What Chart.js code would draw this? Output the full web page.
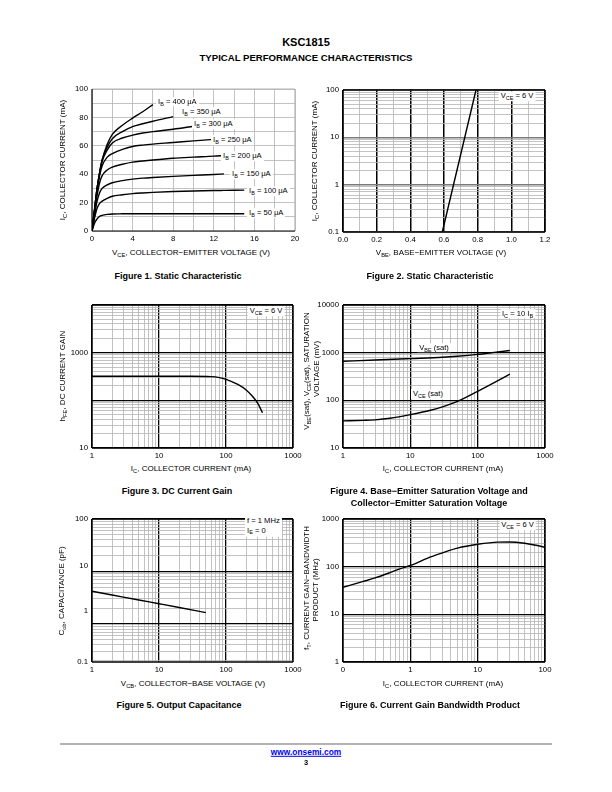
<!DOCTYPE html>
<html>
<head>
<meta charset="utf-8">
<script src="https://cdn.jsdelivr.net/npm/chart.js@4.4.1/dist/chart.umd.min.js"></script>
<style>
  html, body { margin: 0; padding: 0; background: #fff; }
  #page { position: relative; width: 612px; height: 792px; overflow: hidden;
          font-family: 'Liberation Sans', Arial, Helvetica, sans-serif; color: #000; }
  #page canvas { position: absolute; }
  .t { position: absolute; white-space: nowrap; font-size: 8px; line-height: 1;
       transform: translate(-50%, -50%); z-index: 2; }
  .l { transform: translate(0, -50%); font-size: 7.6px; }
  .r { transform: translate(-50%, -50%) rotate(-90deg); }
  .cap { font-weight: bold; font-size: 9px; }
  .bg { background: #fff; padding: 1px 2px; font-size: 7.6px; }
  sub { font-size: 0.72em; vertical-align: -0.3em; line-height: 0; }
</style>
</head>
<body>
<div id="page">
  <div class="t" style="left:306px;top:42px;font-weight:bold;font-size:11px">KSC1815</div>
  <div class="t" style="left:306px;top:57.5px;font-weight:bold;font-size:9.6px">TYPICAL PERFORMANCE CHARACTERISTICS</div>

  <!-- Figure 1 -->
  <div class="t r" style="left:63px;top:160px">I<sub>C</sub>, COLLECTOR CURRENT (mA)</div>
  <div class="t" style="left:191px;top:253px">V<sub>CE</sub>, COLLECTOR−EMITTER VOLTAGE (V)</div>
  <div class="t cap" style="left:178px;top:276px">Figure 1. Static Characteristic</div>
  <div class="t l bg" style="left:156px;top:101.7px">I<sub>B</sub> = 400 μA</div>
  <div class="t l bg" style="left:180px;top:112.3px">I<sub>B</sub> = 350 μA</div>
  <div class="t l bg" style="left:192px;top:124.3px">I<sub>B</sub> = 300 μA</div>
  <div class="t l bg" style="left:211px;top:140px">I<sub>B</sub> = 250 μA</div>
  <div class="t l bg" style="left:221px;top:156px">I<sub>B</sub> = 200 μA</div>
  <div class="t l bg" style="left:230px;top:174.3px">I<sub>B</sub> = 150 μA</div>
  <div class="t l bg" style="left:247px;top:191px">I<sub>B</sub> = 100 μA</div>
  <div class="t l bg" style="left:247px;top:213.3px">I<sub>B</sub> = 50 μA</div>

  <!-- Figure 2 -->
  <div class="t r" style="left:315px;top:161px">I<sub>C</sub>, COLLECTOR CURRENT (mA)</div>
  <div class="t" style="left:441px;top:253px">V<sub>BE</sub>, BASE−EMITTER VOLTAGE (V)</div>
  <div class="t cap" style="left:430px;top:276px">Figure 2. Static Characteristic</div>
  <div class="t bg" style="left:517px;top:96px">V<sub>CE</sub> = 6 V</div>

  <!-- Figure 3 -->
  <div class="t r" style="left:63px;top:376px">h<sub>FE</sub>, DC CURRENT GAIN</div>
  <div class="t" style="left:191px;top:469px">I<sub>C</sub>, COLLECTOR CURRENT (mA)</div>
  <div class="t cap" style="left:177px;top:491px">Figure 3. DC Current Gain</div>
  <div class="t bg" style="left:266px;top:311px">V<sub>CE</sub> = 6 V</div>

  <!-- Figure 4 -->
  <div class="t r" style="left:306.5px;top:371px">V<sub>BE</sub>(sat), V<sub>CE</sub>(sat), SATURATION</div>
  <div class="t r" style="left:317px;top:369px">VOLTAGE (mV)</div>
  <div class="t" style="left:443px;top:469px">I<sub>C</sub>, COLLECTOR CURRENT (mA)</div>
  <div class="t cap" style="left:429px;top:491px">Figure 4. Base−Emitter Saturation Voltage and</div>
  <div class="t cap" style="left:429px;top:503px">Collector−Emitter Saturation Voltage</div>
  <div class="t bg" style="left:517.5px;top:313.5px">I<sub>C</sub> = 10 I<sub>B</sub></div>
  <div class="t bg" style="left:434px;top:347.5px">V<sub>BE</sub> (sat)</div>
  <div class="t bg" style="left:428px;top:394px">V<sub>CE</sub> (sat)</div>

  <!-- Figure 5 -->
  <div class="t r" style="left:62px;top:591px">C<sub>ob</sub>, CAPACITANCE (pF)</div>
  <div class="t" style="left:193px;top:684px">V<sub>CB</sub>, COLLECTOR−BASE VOLTAGE (V)</div>
  <div class="t cap" style="left:179px;top:705px">Figure 5. Output Capacitance</div>
  <div class="t l bg" style="left:245px;top:525.5px;line-height:1.35">f = 1 MHz<br>I<sub>E</sub> = 0</div>

  <!-- Figure 6 -->
  <div class="t r" style="left:306.5px;top:588px">f<sub>T</sub>, CURRENT GAIN−BANDWIDTH</div>
  <div class="t r" style="left:316px;top:590px">PRODUCT (MHz)</div>
  <div class="t" style="left:443px;top:684px">I<sub>C</sub>, COLLECTOR CURRENT (mA)</div>
  <div class="t cap" style="left:430px;top:705px">Figure 6. Current Gain Bandwidth Product</div>
  <div class="t bg" style="left:517.5px;top:525px">V<sub>CE</sub> = 6 V</div>

  <!-- footer -->
  <div style="position:absolute;left:60px;top:743px;width:492px;height:2px;background:#b4b4b4"></div>
  <div class="t" style="left:306px;top:752px;font-weight:bold;font-size:8.4px;color:#0000ee;text-decoration:underline">www.onsemi.com</div>
  <div class="t" style="left:306px;top:763px;font-weight:bold;font-size:7.5px">3</div>
</div>

<script>
(function () {
  'use strict';

  /* ── Data ────────────────────────────────────────────────────────── */

  // Figure 1: IC (mA) vs VCE (V) for each base current
  var fig1Vce   = [0, 0.25, 0.5, 0.75, 1, 1.5, 2, 3, 4, 5, 6, 8, 10, 12, 13, 15];
  var fig1Ib50  = [0, 5.5, 8.5, 10.3, 11, 11.7, 12, 12.1, 12.2, 12.2, 12.2, 12.2, 12.2, 12.2, 12.2, 12.2];
  var fig1Ib100 = [0, 9, 16, 19.5, 21, 23, 24.5, 25.5, 26.3, 26.8, 27.2, 27.8, 28.2, 28.5, 28.6, 28.8];
  var fig1Ib150 = [0, 11, 21, 27, 30, 32.5, 34, 35.5, 36.5, 37.2, 37.7, 38.5, 39.2, 39.8, 40.2, null];
  var fig1Ib200 = [0, 13, 25, 34, 39, 43, 45, 47, 48.5, 49.3, 50, 51.2, 52, 52.7, 53.2, null];
  var fig1Ib250 = [0, 14, 28, 39, 46, 52, 54.5, 57.5, 59.5, 60.5, 61.2, 62.3, 63.5, 64.5, null, null];
  var fig1Ib300 = [0, 15, 30, 41, 49, 57, 62, 65.5, 67.5, 69, 70, 71.7, 73.8, null, null, null];
  var fig1Ib350 = [0, 15, 30, 41, 50, 59, 65, 70, 73.5, 75.5, 77.3, 80.5, null, null, null, null];
  var fig1Ib400 = [0, 15, 30, 41, 50, 61, 68, 74.5, 79.5, 84, 89, null, null, null, null, null];

  // Figure 2: IC (mA) vs VBE (V)
  var fig2Vbe = [0.59, 0.79];
  var fig2Ic  = [0.1, 100];

  // Figure 3: hFE vs IC (mA)
  var fig3Ic  = [1, 10, 30, 60, 80, 100, 150, 200, 250, 300, 350];
  var fig3Hfe = [320, 320, 320, 315, 300, 275, 215, 165, 120, 85, 55];

  // Figure 4: saturation voltages (mV) vs IC (mA)
  var fig4VbeIc = [1, 3, 10, 30, 50, 100, 200, 300];
  var fig4Vbe   = [660, 700, 750, 800, 840, 920, 1040, 1110];
  var fig4VceIc = [1, 2, 3, 5, 10, 20, 30, 50, 100, 200, 300];
  var fig4Vce   = [37, 38, 39, 42, 50, 62, 73, 95, 155, 260, 355];

  // Figure 5: Cob (pF) vs VCB (V)
  var fig5Vcb = [1, 2, 5, 10, 20, 50];
  var fig5Cob = [4.2, 3.56, 2.86, 2.43, 2.06, 1.64];

  // Figure 6: fT (MHz) vs IC (mA)
  var fig6Ic = [0.1, 0.2, 0.3, 0.5, 0.7, 1, 2, 3, 5, 10, 20, 30, 50, 70, 100];
  var fig6Ft = [37, 49, 58, 75, 90, 106, 160, 195, 245, 295, 328, 330, 310, 285, 255];

  // Tick labels
  var fig1XLabels = [0, 4, 8, 12, 16, 20];
  var fig1YLabels = [0, 20, 40, 60, 80, 100];
  var fig2XLabels = ['0.0', '0.2', '0.4', '0.6', '0.8', '1.0', '1.2'];
  var fig2YLabels = ['0.1', '1', '10', '100'];
  var fig3XLabels = ['1', '10', '100', '1000'];
  var fig3YLabels = [[10, '10'], [1000, '1000']];
  var fig4YLabels = ['10', '100', '1000', '10000'];
  var fig5YLabels = [[100, '100'], [12.6, '10'], [1.8, '1'], [0.188, '0.1']];
  var fig6XLabels = [[0.1, '0'], [1, '1'], [10, '10'], [100, '100']];
  var fig6YLabels = ['1', '10', '100', '1000'];

  /* ── Style ───────────────────────────────────────────────────────── */

  var FONT = "'Liberation Sans', Arial, Helvetica, sans-serif";
  var PAD = { l: 40, t: 8, r: 18, b: 16 };
  var MAJOR = { color: '#000', width: 1.3 };
  var MINOR = { color: '#b4b4b4', width: 0.8 };
  var HIDDEN = 'rgba(0,0,0,0)';

  function near(a, b) { return Math.abs(a - b) <= Math.abs(b) * 1e-6 + 1e-9; }
  function find(list, v) {
    for (var i = 0; i < list.length; i++) if (near(list[i].v, v)) return list[i];
    return null;
  }

  function logGrid(e0, e1) {
    var out = [];
    for (var e = e0; e < e1; e++) {
      for (var k = 1; k < 10; k++) out.push({ v: k * Math.pow(10, e), kind: k === 1 ? 'major' : 'minor' });
    }
    out.push({ v: Math.pow(10, e1), kind: 'major' });
    return out;
  }
  function stepGrid(min, max, step, majorEvery) {
    var out = [];
    var n = Math.round((max - min) / step);
    for (var i = 0; i <= n; i++) {
      out.push({ v: +(min + i * step).toFixed(6), kind: majorEvery && i % majorEvery === 0 ? 'major' : 'minor' });
    }
    return out;
  }
  function pairs(values, texts) {
    return values.map(function (v, i) { return { v: v, text: texts[i] }; });
  }

  function axis(pos, type, min, max, grid, labels, styles) {
    var values = grid.map(function (g) { return g.v; });
    labels.forEach(function (l) { if (!find(grid, l.v)) values.push(l.v); });
    values.sort(function (a, b) { return a - b; });
    var st = styles || { major: MAJOR, minor: MINOR };
    return {
      type: type, position: pos, min: min, max: max,
      afterBuildTicks: function (s) { s.ticks = values.map(function (v) { return { value: v }; }); },
      afterFit: function (s) {
        if (pos === 'left') s.width = PAD.l; else s.height = PAD.b;
        s.paddingLeft = s.paddingRight = s.paddingTop = s.paddingBottom = 0;
      },
      ticks: {
        autoSkip: false, maxRotation: 0, minRotation: 0,
        padding: pos === 'left' ? 4 : 3, color: '#000',
        font: { family: FONT, size: 7.8 },
        callback: function (v) { var l = find(labels, v); return l ? l.text : ''; }
      },
      grid: {
        drawTicks: false,
        color: function (ctx) {
          var g = ctx.tick && find(grid, ctx.tick.value);
          return g ? st[g.kind].color : HIDDEN;
        },
        lineWidth: function (ctx) {
          var g = ctx.tick && find(grid, ctx.tick.value);
          return g ? st[g.kind].width : 0;
        }
      },
      border: { display: false }
    };
  }

  /* ── Plot frame (border of the chart area) ──────────────────────── */

  var framePlugin = {
    id: 'frame',
    beforeDatasetsDraw: function (chart, args, opts) {
      var a = chart.chartArea, c = chart.ctx;
      var sides = [
        ['top', a.left, a.top, a.right, a.top],
        ['right', a.right, a.top, a.right, a.bottom],
        ['left', a.left, a.top, a.left, a.bottom],
        ['bottom', a.left, a.bottom, a.right, a.bottom]
      ];
      c.save();
      sides.forEach(function (s) {
        c.strokeStyle = opts[s[0]] || '#000';
        c.lineWidth = opts.width || 1.3;
        c.beginPath(); c.moveTo(s[1], s[2]); c.lineTo(s[3], s[4]); c.stroke();
      });
      c.restore();
    }
  };

  function series(xs, ys) {
    var pts = [];
    for (var i = 0; i < xs.length; i++) if (ys[i] !== null) pts.push({ x: xs[i], y: ys[i] });
    return {
      data: pts, borderColor: '#000', borderWidth: 1.4, pointRadius: 0,
      fill: false, cubicInterpolationMode: 'monotone'
    };
  }

  var page = document.getElementById('page');

  function plot(rect, xAxis, yAxis, datasets, frame) {
    var w = rect.r - rect.l + PAD.l + PAD.r;
    var h = rect.b - rect.t + PAD.t + PAD.b;
    var cv = document.createElement('canvas');
    cv.width = w; cv.height = h;
    cv.style.left = (rect.l - PAD.l) + 'px';
    cv.style.top = (rect.t - PAD.t) + 'px';
    cv.style.width = w + 'px';
    cv.style.height = h + 'px';
    page.appendChild(cv);
    return new Chart(cv, {
      type: 'line',
      data: { datasets: datasets },
      options: {
        responsive: false, animation: false, events: [],
        layout: { padding: { left: 0, top: PAD.t, right: PAD.r, bottom: 0 }, autoPadding: false },
        plugins: { legend: { display: false }, tooltip: { enabled: false }, frame: frame || {} },
        scales: { x: xAxis, y: yAxis }
      },
      plugins: [framePlugin]
    });
  }

  /* ── Figure 1 ────────────────────────────────────────────────────── */

  var lightGrid = { major: MINOR, minor: MINOR };
  plot({ l: 92, t: 89, r: 295, b: 231 },
    axis('bottom', 'linear', 0, 20, stepGrid(0, 20, 2),
      pairs(fig1XLabels, fig1XLabels.map(String)), lightGrid),
    axis('left', 'linear', 0, 100, stepGrid(0, 100, 10),
      pairs(fig1YLabels, fig1YLabels.map(String)), lightGrid),
    [fig1Ib50, fig1Ib100, fig1Ib150, fig1Ib200, fig1Ib250, fig1Ib300, fig1Ib350, fig1Ib400]
      .map(function (ic) { return series(fig1Vce, ic); }),
    { top: '#b4b4b4', right: '#b4b4b4', width: 1.2 });

  /* ── Figure 2 ────────────────────────────────────────────────────── */

  plot({ l: 343, t: 90, r: 545, b: 232 },
    axis('bottom', 'linear', 0, 1.2, stepGrid(0, 1.2, 0.1, 2),
      pairs([0, 0.2, 0.4, 0.6, 0.8, 1.0, 1.2], fig2XLabels), { major: { color: '#000', width: 1.5 }, minor: MINOR }),
    axis('left', 'logarithmic', 0.1, 100, logGrid(-1, 2),
      pairs([0.1, 1, 10, 100], fig2YLabels), { major: { color: '#7a7a7a', width: 1.5 }, minor: MINOR }),
    [series(fig2Vbe, fig2Ic)]);

  /* ── Figure 3 ────────────────────────────────────────────────────── */

  plot({ l: 92, t: 305, r: 293, b: 448 },
    axis('bottom', 'logarithmic', 1, 1000, logGrid(0, 3), pairs([1, 10, 100, 1000], fig3XLabels)),
    axis('left', 'logarithmic', 10, 10000, logGrid(1, 4),
      fig3YLabels.map(function (p) { return { v: p[0], text: p[1] }; })),
    [series(fig3Ic, fig3Hfe)]);

  /* ── Figure 4 ────────────────────────────────────────────────────── */

  plot({ l: 343, t: 305, r: 545, b: 448 },
    axis('bottom', 'logarithmic', 1, 1000, logGrid(0, 3), pairs([1, 10, 100, 1000], fig3XLabels)),
    axis('left', 'logarithmic', 10, 10000, logGrid(1, 4), pairs([10, 100, 1000, 10000], fig4YLabels)),
    [series(fig4VbeIc, fig4Vbe), series(fig4VceIc, fig4Vce)]);

  /* ── Figure 5 ────────────────────────────────────────────────────── */

  var fig5Grid = logGrid(0, 2).concat(
    [0.2, 0.3, 0.4, 0.5, 0.6, 0.7, 0.8, 0.9].map(function (v) { return { v: v, kind: 'minor' }; }));
  plot({ l: 92, t: 519, r: 293, b: 662 },
    axis('bottom', 'logarithmic', 1, 1000, logGrid(0, 3), pairs([1, 10, 100, 1000], fig3XLabels)),
    axis('left', 'logarithmic', 0.188, 100, fig5Grid,
      fig5YLabels.map(function (p) { return { v: p[0], text: p[1] }; })),
    [series(fig5Vcb, fig5Cob)]);

  /* ── Figure 6 ────────────────────────────────────────────────────── */

  plot({ l: 343, t: 519, r: 545, b: 662 },
    axis('bottom', 'logarithmic', 0.1, 100, logGrid(-1, 2),
      fig6XLabels.map(function (p) { return { v: p[0], text: p[1] }; })),
    axis('left', 'logarithmic', 1, 1000, logGrid(0, 3), pairs([1, 10, 100, 1000], fig6YLabels)),
    [series(fig6Ic, fig6Ft)]);
})();
</script>
</body>
</html>
